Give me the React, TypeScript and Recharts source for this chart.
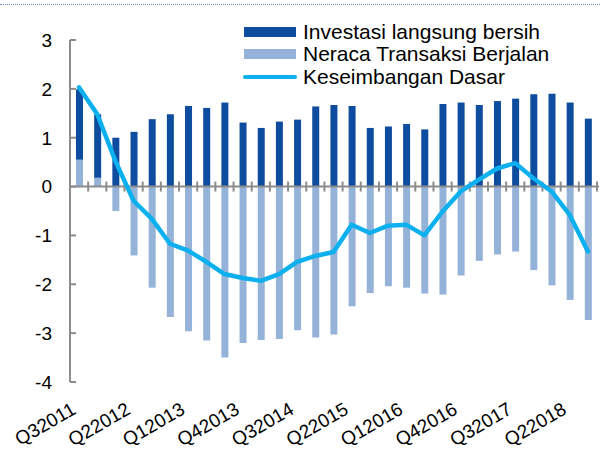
import React from 'react';
import {
  ComposedChart,
  Bar,
  Line,
  XAxis,
  YAxis,
  ReferenceLine,
  Legend,
} from 'recharts';

// kuartal Q32011 .. Q32018
const quarters = [
  'Q32011', 'Q42011', 'Q12012', 'Q22012', 'Q32012', 'Q42012', 'Q12013', 'Q22013',
  'Q32013', 'Q42013', 'Q12014', 'Q22014', 'Q32014', 'Q42014', 'Q12015', 'Q22015',
  'Q32015', 'Q42015', 'Q12016', 'Q22016', 'Q32016', 'Q42016', 'Q12017', 'Q22017',
  'Q32017', 'Q42017', 'Q12018', 'Q22018', 'Q32018',
];

const investasi = [
  1.44, 1.30, 1.00, 1.12, 1.38, 1.48, 1.65, 1.61, 1.72, 1.31, 1.20, 1.33, 1.37, 1.64, 1.67,
  1.65, 1.20, 1.23, 1.28, 1.17, 1.69, 1.72, 1.67, 1.75, 1.80, 1.89, 1.90, 1.72, 1.39,
];

const neraca = [
  0.55, 0.18, -0.50, -1.41, -2.07, -2.67, -2.96, -3.15, -3.50, -3.20, -3.14, -3.12, -2.94, -3.09, -3.03,
  -2.45, -2.18, -2.04, -2.07, -2.19, -2.21, -1.82, -1.52, -1.39, -1.33, -1.71, -2.02, -2.32, -2.73,
];

const dasar = [
  2.03, 1.48, 0.52, -0.29, -0.66, -1.17, -1.31, -1.54, -1.79, -1.87, -1.93, -1.79, -1.54, -1.42, -1.34,
  -0.78, -0.95, -0.80, -0.78, -1.00, -0.51, -0.10, 0.14, 0.37, 0.48, 0.17, -0.10, -0.58, -1.33,
];

const yTicks = [-4, -3, -2, -1, 0, 1, 2, 3];

const seriesNames = ['Investasi langsung bersih', 'Neraca Transaksi Berjalan', 'Keseimbangan Dasar'];
const seriesColors = ['#0d4c9f', '#95b3d8', '#0db0ee'];

const data = quarters.map((q, i) => ({
  q,
  investasi: investasi[i],
  neraca: neraca[i],
  dasar: dasar[i],
}));

const AXIS = '#8c8c8c';
const FONT = '"Liberation Sans", Arial, sans-serif';

const YTick = (props: any) => {
  const { x, y, payload } = props;
  return (
    <g>
      <line x1={x} y1={y} x2={x + 6} y2={y} stroke={AXIS} strokeWidth={2} />
      <text x={x - 18} y={y} dy="0.36em" textAnchor="end" fontSize={19} fill="#000" fontFamily={FONT}>
        {payload.value}
      </text>
    </g>
  );
};

const XTick = (props: any) => {
  const { x, y, payload } = props;
  const ax = x - 2;
  const ay = y + 31;
  return (
    <text
      x={ax}
      y={ay}
      textAnchor="end"
      fontSize={19}
      fill="#000"
      fontFamily={FONT}
      transform={`rotate(-30, ${ax}, ${ay})`}
    >
      {payload.value}
    </text>
  );
};

// garis nol dengan tanda tick di batas kategori
const ZeroLine = (props: any) => {
  const { x1, y1, x2 } = props;
  const step = (x2 - x1) / quarters.length;
  return (
    <g>
      <line x1={x1} y1={y1} x2={x2 + 2} y2={y1} stroke={AXIS} strokeWidth={2} />
      {quarters.map((_, i) => (
        <line
          key={i}
          x1={x1 + (i + 1) * step}
          x2={x1 + (i + 1) * step}
          y1={y1 - 5}
          y2={y1 + 5}
          stroke={AXIS}
          strokeWidth={2}
        />
      ))}
    </g>
  );
};

const LegendBox = () => (
  <div style={{ fontFamily: FONT, fontSize: 21, color: '#000', lineHeight: '22.3px' }}>
    {seriesNames.map((name, i) => (
      <div key={name} style={{ display: 'flex', alignItems: 'center', height: 22.3 }}>
        {i < 2 ? (
          <span style={{ display: 'inline-block', width: 52, height: 10, background: seriesColors[i], marginRight: 7 }} />
        ) : (
          <span
            style={{
              display: 'inline-block',
              width: 54,
              height: 4,
              borderRadius: 2,
              background: seriesColors[i],
              marginRight: 6,
              marginLeft: -1,
            }}
          />
        )}
        <span style={{ whiteSpace: 'nowrap' }}>{name}</span>
      </div>
    ))}
  </div>
);

const App = () => {
  return (
    <div style={{ position: 'absolute', left: 0, top: 0, width: 600, height: 453, background: '#fff' }}>
      <div
        style={{
          position: 'absolute',
          left: 0,
          top: 4,
          width: 600,
          height: 0,
          borderTop: '1.5px dotted #6f8fca',
        }}
      />
      <ComposedChart
        width={600}
        height={453}
        data={data}
        stackOffset="sign"
        margin={{ top: 40, right: 3, left: 0, bottom: 0 }}
      >
        <XAxis
          dataKey="q"
          interval={2}
          tickLine={false}
          axisLine={false}
          tickSize={0}
          tickMargin={0}
          height={71}
          tick={<XTick />}
        />
        <YAxis
          domain={[-4, 3]}
          ticks={yTicks}
          width={70}
          tickLine={false}
          tickSize={0}
          tickMargin={0}
          axisLine={{ stroke: AXIS, strokeWidth: 2 }}
          tick={<YTick />}
        />
        <Legend
          layout="vertical"
          align="center"
          verticalAlign="middle"
          wrapperStyle={{ left: 244, top: 21, width: 340 }}
          content={() => <LegendBox />}
        />
        <Bar dataKey="neraca" name={seriesNames[1]} stackId="a" fill={seriesColors[1]} barSize={7} isAnimationActive={false} />
        <Bar dataKey="investasi" name={seriesNames[0]} stackId="a" fill={seriesColors[0]} barSize={7} isAnimationActive={false} />
        <ReferenceLine y={0} shape={<ZeroLine />} />
        <Line
          type="linear"
          dataKey="dasar"
          name={seriesNames[2]}
          stroke={seriesColors[2]}
          strokeWidth={4.5}
          strokeLinejoin="round"
          strokeLinecap="round"
          dot={false}
          isAnimationActive={false}
        />
      </ComposedChart>
    </div>
  );
};

export default App;
